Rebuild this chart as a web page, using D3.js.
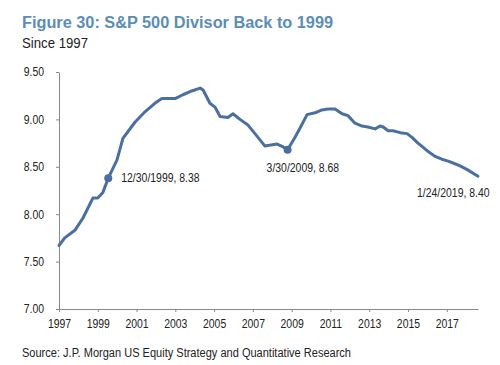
<!DOCTYPE html>
<html><head><meta charset="utf-8">
<script src="https://cdn.jsdelivr.net/npm/d3@7"></script>
<style>body{margin:0;background:#fff;} svg{display:block;font-family:"Liberation Sans",Arial,sans-serif;}</style>
</head><body>
<svg id="chart" width="500" height="365"></svg>
<script>
const dates = ["1997-06-15","1997-10-01","1998-04-10","1998-09-10","1999-03-15","1999-06-15","1999-09-20","1999-12-30",
"2000-06-10","2000-10-01","2001-05-15","2001-11-20","2002-05-25","2002-10-05","2003-01-10","2003-06-10","2003-11-05",
"2004-04-20","2004-09-25","2004-11-20","2005-03-28","2005-07-01","2005-10-05","2006-03-01","2006-06-05","2006-10-15",
"2007-03-15","2007-09-20","2008-01-25","2008-09-15","2009-01-05","2009-03-30","2009-08-15","2009-11-20","2010-04-01",
"2010-08-30","2011-01-05","2011-05-01","2011-09-10","2012-01-20","2012-05-10","2012-09-20","2013-01-30","2013-05-20",
"2013-10-05","2014-01-05","2014-03-05","2014-06-05","2014-09-05","2015-01-20","2015-05-30","2015-08-30","2015-12-20",
"2016-06-10","2016-11-05","2017-03-15","2017-07-10","2017-10-10","2018-02-20","2018-07-05","2019-01-24"];
const divisor = [7.67,7.75,7.83,7.96,8.17,8.17,8.23,8.38,
8.57,8.80,8.97,9.08,9.17,9.22,9.22,9.22,9.26,
9.30,9.33,9.31,9.17,9.13,9.03,9.02,9.06,9.00,
8.94,8.81,8.72,8.74,8.71,8.68,8.81,8.91,9.05,
9.07,9.10,9.11,9.11,9.06,9.04,8.96,8.93,8.92,
8.90,8.93,8.92,8.88,8.88,8.86,8.85,8.81,8.75,
8.67,8.61,8.58,8.56,8.54,8.51,8.47,8.40];
const yTicks = [7.00,7.50,8.00,8.50,9.00,9.50];
const xTickYears = [1997,1999,2001,2003,2005,2007,2009,2011,2013,2015,2017];
const annotations = [
  {date:"1999-12-30", value:8.38, label:"12/30/1999, 8.38", dot:true},
  {date:"2009-03-30", value:8.68, label:"3/30/2009, 8.68", dot:true},
  {date:"2019-01-24", value:8.40, label:"1/24/2019, 8.40", dot:false}
];
const title = "Figure 30: S&P 500 Divisor Back to 1999";
const subtitle = "Since 1997";
const source = "Source: J.P. Morgan US Equity Strategy and Quantitative Research";

const parse = d3.timeParse("%Y-%m-%d");
const data = dates.map((d,i)=>({date:parse(d), value:divisor[i]}));
const svg = d3.select("#chart");
const lineColor = "#4a6fa0";
const textColor = "#222";
const squeeze = 0.87;
function narrow(sel){
  sel.each(function(){
    const w = this.getComputedTextLength();
    d3.select(this).attr("textLength", w*squeeze).attr("lengthAdjust","spacingAndGlyphs");
  });
}

const x = d3.scaleTime().domain([parse("1997-06-15"), parse("2019-01-24")]).range([59, 478]);
const y = d3.scaleLinear().domain([7, 9.5]).range([309, 72]);

svg.append("text").attr("x",22).attr("y",28).attr("fill","#5b8db8").attr("font-weight","bold")
  .attr("font-size",16).attr("textLength",311).attr("lengthAdjust","spacingAndGlyphs").text(title);
svg.append("text").attr("x",22).attr("y",48).attr("fill",textColor).attr("font-size",14)
  .attr("textLength",66).attr("lengthAdjust","spacingAndGlyphs").text(subtitle);

// Y axis
const yAxis = d3.axisLeft(y).tickValues(yTicks).tickFormat(d3.format(".2f")).tickSize(3).tickSizeOuter(0);
const gy = svg.append("g").attr("transform","translate(59,0)").call(yAxis);
gy.select(".domain").attr("stroke","#888");
gy.selectAll(".tick line").attr("stroke","#888");
gy.selectAll(".tick text").attr("fill",textColor).attr("font-size",12).attr("x",-15)
  .attr("font-family","Liberation Sans, Arial, sans-serif").call(narrow);

// X axis
const xTickDates = xTickYears.map(yr=>parse(yr+"-06-15"));
const xAxis = d3.axisBottom(x).tickValues(xTickDates).tickFormat(d3.timeFormat("%Y")).tickSize(3).tickSizeOuter(0);
const gx = svg.append("g").attr("transform","translate(0,309)").call(xAxis);
gx.select(".domain").attr("stroke","#888");
gx.selectAll(".tick line").attr("stroke","#888");
gx.selectAll(".tick text").attr("fill",textColor).attr("font-size",12).attr("y",10)
  .attr("font-family","Liberation Sans, Arial, sans-serif").call(narrow);

// Line
svg.append("path").datum(data).attr("fill","none").attr("stroke",lineColor).attr("stroke-width",3)
  .attr("stroke-linejoin","round").attr("stroke-linecap","round")
  .attr("d", d3.line().x(d=>x(d.date)).y(d=>y(d.value)));

// Annotations
const ann = annotations.map(a=>({...a, d:parse(a.date)}));
svg.selectAll("circle.ann").data(ann.filter(a=>a.dot)).join("circle").attr("class","ann")
  .attr("cx",a=>x(a.d)).attr("cy",a=>y(a.value)).attr("r",4).attr("fill",lineColor);
const offsets = [[13,4],[-21,22],[-61,21]];
svg.selectAll("text.ann").data(ann).join("text").attr("class","ann")
  .attr("x",(a,i)=>x(a.d)+offsets[i][0]).attr("y",(a,i)=>y(a.value)+offsets[i][1])
  .attr("fill",textColor).attr("font-size",12).text(a=>a.label).call(narrow);

svg.append("text").attr("x",22).attr("y",357).attr("fill",textColor).attr("font-size",12)
  .attr("textLength",329).attr("lengthAdjust","spacingAndGlyphs").text(source);
</script>
</body></html>
